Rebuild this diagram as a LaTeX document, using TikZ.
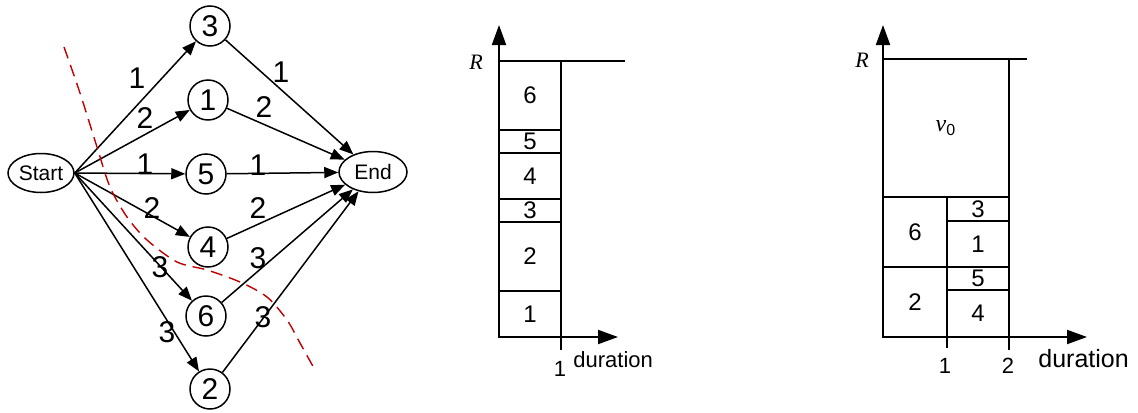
\documentclass[tikz,border=0pt]{standalone}
\usepackage{fontspec}
\setmainfont{Liberation Sans}
\newfontfamily\timesfont{Liberation Serif}
\usetikzlibrary{arrows.meta,shapes.geometric}
\definecolor{cutred}{RGB}{192,0,0}
\begin{document}
\begin{tikzpicture}[x=0.5pt,y=-0.5pt,
    job/.style={draw,circle,line width=0.75pt,inner sep=0pt,minimum size=20pt,font=\fontsize{15}{15}\selectfont},
    term/.style={draw,ellipse,line width=0.75pt,inner sep=0pt,font=\fontsize{10.5}{10.5}\selectfont},
    link/.style={line width=0.75pt,-{Triangle[length=7pt,width=5.5pt]}},
    wt/.style={inner sep=0pt,font=\fontsize{15}{15}\selectfont},
    cut/.style={draw=cutred,line width=0.7pt,dash pattern=on 6pt off 3.5pt},
    axisarrow/.style={line width=1pt,-{Triangle[length=10pt,width=7pt]}},
    box/.style={line width=0.6pt},
    cell/.style={inner sep=0pt,font=\fontsize{12}{12}\selectfont},
    ticklbl/.style={inner sep=0pt,font=\fontsize{11}{11}\selectfont},
    reslbl/.style={inner sep=0pt,font=\timesfont\itshape\fontsize{11}{11}\selectfont}]
  \useasboundingbox (0,0) rectangle (1138,412);

  % precedence graph
  \node[term,minimum width=33pt,minimum height=19.5pt] (start) at (41,173) {Start};
  \node[term,minimum width=34pt,minimum height=20.5pt] (end) at (373,172) {End};
  \node[job] (j3) at (210,26) {3};
  \node[job] (j1) at (208,100) {1};
  \node[job] (j5) at (206,174) {5};
  \node[job] (j4) at (208,247) {4};
  \node[job] (j6) at (206,316) {6};
  \node[job] (j2) at (210,389) {2};
  \draw[link] (start.east) -- (j3);
  \draw[link] (start.east) -- (j1);
  \draw[link] (start.east) -- (j5);
  \draw[link] (start.east) -- (j4);
  \draw[link] (start.east) -- (j6);
  \draw[link] (start.east) -- (j2);
  \draw[link] (j3) -- (end);
  \draw[link] (j1) -- (end);
  \draw[link] (j5) -- (end);
  \draw[link] (j4) -- (end);
  \draw[link] (j6) -- (end);
  \draw[link] (j2) -- (end);
  \node[wt] (w3in) at (137,78) {1};
  \node[wt] (w1in) at (145,118) {2};
  \node[wt] (w5in) at (145,164) {1};
  \node[wt] (w4in) at (152,208) {2};
  \node[wt] (w6in) at (160,267) {3};
  \node[wt] (w2in) at (167,332) {3};
  \node[wt] (w3out) at (281,72) {1};
  \node[wt] (w1out) at (264,107) {2};
  \node[wt] (w5out) at (258,165) {1};
  \node[wt] (w4out) at (258,208) {2};
  \node[wt] (w6out) at (258,258) {3};
  \node[wt] (w2out) at (263,317) {3};
  \draw[cut] plot[smooth] coordinates {(64,47) (80,93) (97,147) (110,187) (127,217)
    (147,240) (177,262) (207,270) (240,282) (267,297) (287,320) (300,343) (315,370)};

  % one job per slot
  \draw[box] (499,61) rectangle node[cell] (m6) {6} (561,130);
  \draw[box] (499,130) rectangle node[cell] (m5) {5} (561,153);
  \draw[box] (499,153) rectangle node[cell] (m4) {4} (561,199);
  \draw[box] (499,199) rectangle node[cell] (m3) {3} (561,222);
  \draw[box] (499,222) rectangle node[cell] (m2) {2} (561,291);
  \draw[box] (499,291) rectangle node[cell] (m1) {1} (561,337);
  \draw[box] (561,337) -- (561,350);
  \draw[line width=1.1pt] (499,61) -- (625,61);
  \draw[axisarrow] (499,337) -- (499,25);
  \draw[axisarrow] (499,337) -- (618,337);
  \node[reslbl] (mr) at (476,62) {R};
  \node[ticklbl] (mt1) at (560,369) {1};
  \node[inner sep=0pt,anchor=base west,font=\fontsize{11}{11}\selectfont] (mdur) at (573,367) {duration};

  % two slots
  \draw[box] (883,59) rectangle node[inner sep=0pt,font=\fontsize{12}{12}\selectfont] (v0) {{\timesfont\itshape v}\textsubscript{0}} (1009,197);
  \draw[box] (883,197) rectangle node[cell] (r6) {6} (947,267);
  \draw[box] (883,267) rectangle node[cell] (r2) {2} (947,337);
  \draw[box] (947,197) rectangle node[cell] (r3) {3} (1009,221);
  \draw[box] (947,221) rectangle node[cell] (r1) {1} (1009,267);
  \draw[box] (947,267) rectangle node[cell] (r5) {5} (1009,290);
  \draw[box] (947,290) rectangle node[cell] (r4) {4} (1009,337);
  \draw[box] (947,337) -- (947,348);
  \draw[box] (1009,337) -- (1009,350);
  \draw[line width=1.1pt] (883,59) -- (1027,59);
  \draw[axisarrow] (883,337) -- (883,25);
  \draw[axisarrow] (883,337) -- (1087,337);
  \node[reslbl] (rr) at (862,60) {R};
  \node[ticklbl] (rt1) at (945,366) {1};
  \node[ticklbl] (rt2) at (1008,366) {2};
  \node[inner sep=0pt,anchor=base west,font=\fontsize{12.5}{12.5}\selectfont] (rdur) at (1038,367) {duration};
\end{tikzpicture}
\end{document}
